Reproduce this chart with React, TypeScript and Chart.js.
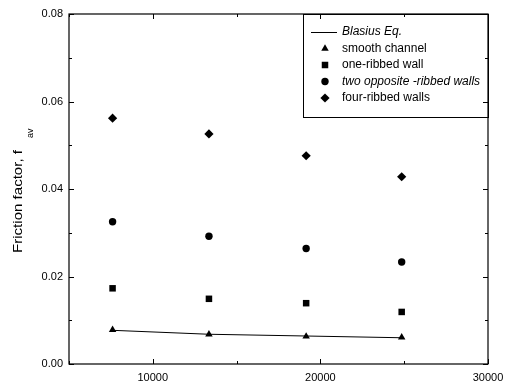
import React, { useEffect, useRef } from "react";
import { Chart, registerables } from "chart.js";

Chart.register(...registerables);

const reynolds = [7600, 13350, 19150, 24850];
const blasius = [0.0077, 0.0068, 0.0064, 0.006];
const smoothChannel = [0.0078, 0.0068, 0.0063, 0.0061];
const oneRibbed = [0.0173, 0.0149, 0.0139, 0.0119];
const twoOpposite = [0.0325, 0.0292, 0.0264, 0.0233];
const fourRibbed = [0.0562, 0.0526, 0.0476, 0.0428];

const seriesLabels = [
  "Blasius Eq.",
  "smooth channel",
  "one-ribbed wall",
  "two opposite -ribbed walls",
  "four-ribbed walls",
];
const xTickLabels = [10000, 20000, 30000];
const yTickLabels = [0, 0.02, 0.04, 0.06, 0.08];
const yTitle = "Friction factor, f";
const yTitleSub = "av";

const FONT = "'Liberation Sans', Arial, sans-serif";

function toPts(ys: number[]) {
  return reynolds.map((x, i) => ({ x, y: ys[i] }));
}

function drawMarker(ctx: CanvasRenderingContext2D, style: string, x: number, y: number, r: number) {
  ctx.beginPath();
  if (style === "triangle") {
    for (let k = 0; k < 3; k++) {
      const a = (k * 2 * Math.PI) / 3;
      const px = x + Math.sin(a) * r;
      const py = y - Math.cos(a) * r;
      if (k === 0) ctx.moveTo(px, py);
      else ctx.lineTo(px, py);
    }
    ctx.closePath();
  } else if (style === "rect") {
    const s = Math.SQRT1_2 * r;
    ctx.rect(x - s, y - s, 2 * s, 2 * s);
  } else if (style === "circle") {
    ctx.arc(x, y, r, 0, Math.PI * 2);
  } else if (style === "rectRot") {
    ctx.moveTo(x, y - r);
    ctx.lineTo(x + r, y);
    ctx.lineTo(x, y + r);
    ctx.lineTo(x - r, y);
    ctx.closePath();
  }
  ctx.fill();
}

const framePlugin = {
  id: "framePlugin",
  afterDraw(chart: any) {
    const ctx: CanvasRenderingContext2D = chart.ctx;
    const { left, right, top, bottom } = chart.chartArea;
    const xs = chart.scales.x;
    const ys = chart.scales.y;
    ctx.save();
    ctx.strokeStyle = "#000";
    ctx.lineWidth = 1.2;
    ctx.strokeRect(left, top, right - left, bottom - top);
    ctx.lineWidth = 1;
    ctx.beginPath();
    xs.ticks.forEach((t: any) => {
      const px = Math.round(xs.getPixelForValue(t.value)) + 0.5;
      const major = xTickLabels.includes(t.value);
      const len = major ? 5 : 3;
      ctx.moveTo(px, bottom);
      ctx.lineTo(px, bottom - len);
      ctx.moveTo(px, top);
      ctx.lineTo(px, top + len);
    });
    ys.ticks.forEach((t: any) => {
      const py = Math.round(ys.getPixelForValue(t.value)) + 0.5;
      const major = yTickLabels.some((v) => Math.abs(v - t.value) < 1e-9);
      const len = major ? 5 : 3;
      ctx.moveTo(left, py);
      ctx.lineTo(left + len, py);
      ctx.moveTo(right, py);
      ctx.lineTo(right - len, py);
    });
    ctx.stroke();

    // y axis title with subscript
    ctx.fillStyle = "#000";
    ctx.save();
    ctx.translate(22, 253);
    ctx.rotate(-Math.PI / 2);
    ctx.font = `13px ${FONT}`;
    ctx.textBaseline = "alphabetic";
    ctx.textAlign = "left";
    const w = ctx.measureText(yTitle).width;
    ctx.save();
    ctx.scale(103 / w, 1);
    ctx.fillText(yTitle, 0, 0);
    ctx.restore();
    ctx.font = `9px ${FONT}`;
    ctx.fillText(yTitleSub, 115, 11);
    ctx.restore();

    // legend
    const bw = 185;
    const bh = 103;
    const bx = right - bw;
    const by = top;
    ctx.lineWidth = 1;
    ctx.strokeRect(Math.round(bx) + 0.5, Math.round(by) + 0.5, bw, bh);
    const dsets = chart.data.datasets;
    dsets.forEach((ds: any, i: number) => {
      const cy = by + 18 + i * 16.5;
      if (ds.showLine) {
        ctx.beginPath();
        ctx.moveTo(bx + 8, cy + 0.5);
        ctx.lineTo(bx + 34, cy + 0.5);
        ctx.lineWidth = 1;
        ctx.stroke();
      } else {
        drawMarker(ctx, ds.pointStyle, bx + 22, cy, ds.pointRadius);
      }
      const italic = i === 0 || i === 3;
      ctx.font = `${italic ? "italic " : ""}12px ${FONT}`;
      ctx.textBaseline = "middle";
      ctx.textAlign = "left";
      ctx.fillText(ds.label, bx + 39, cy);
    });
    ctx.restore();
  },
};

export default function App() {
  const ref = useRef<HTMLCanvasElement>(null);
  useEffect(() => {
    document.body.style.margin = "0";
    const common = { borderColor: "#000", backgroundColor: "#000", showLine: false, borderWidth: 0 };
    const chart = new Chart(ref.current as HTMLCanvasElement, {
      type: "scatter",
      data: {
        datasets: [
          { label: seriesLabels[0], data: toPts(blasius), showLine: true, borderColor: "#000", borderWidth: 1, pointRadius: 0, backgroundColor: "#000" },
          { ...common, label: seriesLabels[1], data: toPts(smoothChannel), pointStyle: "triangle", pointRadius: 4.3 },
          { ...common, label: seriesLabels[2], data: toPts(oneRibbed), pointStyle: "rect", pointRadius: 4.6 },
          { ...common, label: seriesLabels[3], data: toPts(twoOpposite), pointStyle: "circle", pointRadius: 3.7 },
          { ...common, label: seriesLabels[4], data: toPts(fourRibbed), pointStyle: "rectRot", pointRadius: 4.6 },
        ] as any,
      },
      options: {
        animation: false,
        responsive: false,
        events: [],
        layout: { padding: { top: 14, right: 23, left: 0, bottom: 0 } },
        plugins: { legend: { display: false }, tooltip: { enabled: false } },
        scales: {
          x: {
            type: "linear",
            min: 5000,
            max: 30000,
            grid: { display: false, drawTicks: false },
            border: { display: false },
            afterFit: (s: any) => { s.height = 23; },
            ticks: {
              stepSize: 5000,
              autoSkip: false,
              maxRotation: 0,
              padding: 7,
              color: "#000",
              font: { family: FONT, size: 11 },
              callback: (v: any) => (xTickLabels.includes(v) ? String(v) : ""),
            },
          },
          y: {
            type: "linear",
            min: 0,
            max: 0.08,
            grid: { display: false, drawTicks: false },
            border: { display: false },
            afterFit: (s: any) => { s.width = 69; },
            ticks: {
              stepSize: 0.01,
              autoSkip: false,
              padding: 6,
              color: "#000",
              font: { family: FONT, size: 11 },
              callback: (v: any) => (yTickLabels.some((t) => Math.abs(t - v) < 1e-9) ? Number(v).toFixed(2) : ""),
            },
          },
        },
      },
      plugins: [framePlugin],
    } as any);
    return () => chart.destroy();
  }, []);
  return (
    <div style={{ width: 511, height: 387 }}>
      <canvas ref={ref} width={511} height={387} style={{ display: "block", width: 511, height: 387 }} />
    </div>
  );
}
